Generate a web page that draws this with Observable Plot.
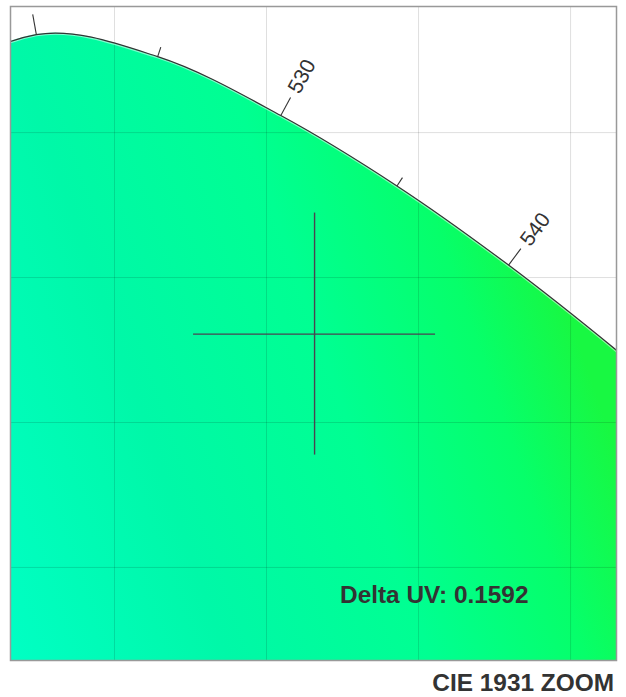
<!DOCTYPE html>
<html><head><meta charset="utf-8">
<script src="https://cdn.jsdelivr.net/npm/d3@7"></script>
<script src="https://cdn.jsdelivr.net/npm/@observablehq/plot@0.6"></script>
<style>
body{margin:0;background:#fff;font-family:"Liberation Sans",Arial,Helvetica,sans-serif;}
#title{width:626px;box-sizing:border-box;text-align:right;padding-right:12px;font-weight:bold;font-size:24.4px;color:#333;line-height:28px;margin-top:3px;}
</style></head><body><div id="chart"></div><div id="title">CIE 1931 ZOOM</div>
<script>
// CIE 1931 2° spectral locus (5 nm)
const wavelengths = [505, 510, 515, 520, 525, 530, 535, 540, 545, 550, 555];
const locusX = [0.0039, 0.0139, 0.0389, 0.0743, 0.1142, 0.1547, 0.1929, 0.2296, 0.2658, 0.3016, 0.3373];
const locusY = [0.6548, 0.7502, 0.8120, 0.8338, 0.8262, 0.8059, 0.7816, 0.7543, 0.7243, 0.6923, 0.6589];
const tickWavelengths = [520, 525, 530, 535, 540, 545, 550];
const labelWavelengths = [530, 540];
const gridX = [0.10, 0.15, 0.20, 0.25];
const gridY = [0.65, 0.70, 0.75, 0.80];
const testPoint = [{x: 0.1658, y: 0.7305}];
const deltaUV = 0.1592;
const xDomain = [0.0658, 0.2651];
const yDomain = [0.6179, 0.8435];

const W = 626, H = 666, mL = 10, mR = 10, mT = 6, mB = 6;
const kx = (W - mL - mR) / (xDomain[1] - xDomain[0]);
const ky = (H - mT - mB) / (yDomain[1] - yDomain[0]);
const MAJOR = 20.5, MINOR = 10, LABEL_GAP = 27, CROSS = 121;

const locus = wavelengths.map((w, i) => ({w, x: locusX[i], y: locusY[i]}));
const ticks = tickWavelengths.map(w => {
  const i = wavelengths.indexOf(w);
  const tx = (locusX[i + 1] - locusX[i - 1]) * kx;
  const ty = -(locusY[i + 1] - locusY[i - 1]) * ky;
  const len = Math.hypot(tx, ty);
  const nx = ty / len, ny = -tx / len;
  const major = w % 10 === 0;
  const L = major ? MAJOR : MINOR;
  return {
    w, major,
    x1: locusX[i], y1: locusY[i],
    x2: locusX[i] + nx * L / kx, y2: locusY[i] - ny * L / ky,
    lx: locusX[i] + nx * LABEL_GAP / kx, ly: locusY[i] - ny * LABEL_GAP / ky,
    angle: Math.atan2(ny, nx) * 180 / Math.PI
  };
});

const font = "Liberation Sans, Arial, Helvetica, sans-serif";
const svg = Plot.plot({
  width: W, height: H,
  marginLeft: mL, marginRight: mR, marginTop: mT, marginBottom: mB,
  x: {domain: xDomain, axis: null},
  y: {domain: yDomain, axis: null},
  marks: [
    Plot.areaY(locus, {x: "x", y1: yDomain[0] - 0.05, y2: "y", curve: "catmull-rom", fill: "url(#locusGrad)", clip: true}),
    Plot.ruleX(gridX, {stroke: "#000", strokeOpacity: 0.13, strokeWidth: 1}),
    Plot.ruleY(gridY, {stroke: "#000", strokeOpacity: 0.13, strokeWidth: 1}),
    Plot.line(locus, {x: "x", y: "y", curve: "catmull-rom", stroke: "white", strokeWidth: 3.5, strokeOpacity: 0.5, clip: true}),
    Plot.line(locus, {x: "x", y: "y", curve: "catmull-rom", stroke: "#333", strokeWidth: 1.2, clip: true}),
    Plot.link(ticks, {x1: "x1", y1: "y1", x2: "x2", y2: "y2", stroke: "#333", strokeWidth: 1.1, clip: true}),
    Plot.text(ticks.filter(d => labelWavelengths.includes(d.w)), {x: "lx", y: "ly", text: d => String(d.w), rotate: "angle", textAnchor: "start", lineAnchor: "middle", fontSize: 21, fontFamily: font, fill: "#333"}),
    Plot.ruleY(testPoint, {y: "y", x1: d => d.x - CROSS / kx, x2: d => d.x + CROSS / kx, stroke: "#4a4350", strokeWidth: 1.4}),
    Plot.ruleX(testPoint, {x: "x", y1: d => d.y - CROSS / ky, y2: d => d.y + CROSS / ky, stroke: "#4a4350", strokeWidth: 1.4}),
    Plot.text([`Delta UV: ${deltaUV.toFixed(4)}`], {frameAnchor: "bottom-right", dx: -88, dy: -65, textAnchor: "end", lineAnchor: "middle", fontSize: 24.4, fontWeight: "bold", fontFamily: font, fill: "#333"}),
    Plot.frame({stroke: "#999", strokeWidth: 1.5})
  ]
});

const defs = d3.select(svg).insert("defs", ":first-child");
const grad = defs.append("linearGradient").attr("id", "locusGrad").attr("gradientUnits", "userSpaceOnUse")
  .attr("x1", mL).attr("y1", H - mB).attr("x2", W - mR).attr("y2", H - mB - 210);
[[0, "#00ffc4"], [0.32, "#00f8a8"], [0.62, "#00ff92"], [0.85, "#06ff6a"], [1, "#18f842"]]
  .forEach(([o, c]) => grad.append("stop").attr("offset", o).attr("stop-color", c));

document.getElementById("chart").appendChild(svg);
</script></body></html>
